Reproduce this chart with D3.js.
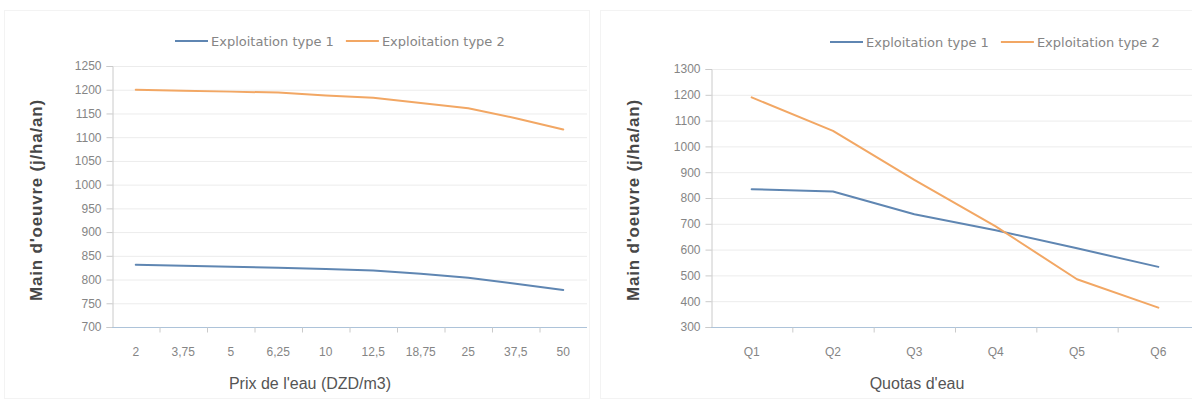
<!DOCTYPE html>
<html>
<head>
<meta charset="utf-8">
<script src="https://cdn.jsdelivr.net/npm/d3@7"></script>
<style>
  html, body { margin: 0; padding: 0; background: #fff; overflow: hidden; }
  svg { display: block; }
  text { font-family: "Liberation Sans", "DejaVu Sans", sans-serif; }
</style>
</head>
<body>
<svg id="chart" width="1192" height="403"></svg>
<script>
// Left panel: labour vs. water price
const priceCategories = ["2", "3,75", "5", "6,25", "10", "12,5", "18,75", "25", "37,5", "50"];
const priceType1 = [831, 829, 827, 825, 822, 819, 812, 804, 791, 778];
const priceType2 = [1200, 1198, 1196, 1194, 1188, 1183, 1172, 1161, 1140, 1116];
const priceTicks = [700, 750, 800, 850, 900, 950, 1000, 1050, 1100, 1150, 1200, 1250];

// Right panel: labour vs. water quotas
const quotaCategories = ["Q1", "Q2", "Q3", "Q4", "Q5", "Q6"];
const quotaType1 = [834, 825, 737, 675, 605, 533];
const quotaType2 = [1190, 1060, 870, 690, 485, 375];
const quotaTicks = [300, 400, 500, 600, 700, 800, 900, 1000, 1100, 1200, 1300];

const seriesNames = ["Exploitation type 1", "Exploitation type 2"];
const seriesColors = ["#5f86b2", "#f2a764"];
const yTitle = "Main d'oeuvre  (j/ha/an)";

const svg = d3.select("#chart");

// faint frames of the two chart areas
svg.append("rect").attr("x", 4.5).attr("y", 10.5).attr("width", 585).attr("height", 388)
  .attr("fill", "none").attr("stroke", "#f3f3f3");
svg.append("rect").attr("x", 600.5).attr("y", 10.5).attr("width", 600).attr("height", 388)
  .attr("fill", "none").attr("stroke", "#f3f3f3");

function drawPanel(cfg) {
  const g = svg.append("g");
  const x = d3.scaleBand().domain(cfg.categories).range([cfg.left, cfg.right]);
  const y = d3.scaleLinear().domain([cfg.ticks[0], cfg.ticks[cfg.ticks.length - 1]])
    .range([cfg.bottom, cfg.top]);

  // horizontal gridlines
  g.append("g").selectAll("line").data(cfg.ticks.slice(1)).join("line")
    .attr("x1", cfg.left).attr("x2", cfg.right)
    .attr("y1", d => y(d) + 0.5).attr("y2", d => y(d) + 0.5)
    .attr("stroke", "#ececec").attr("stroke-width", 1);

  // y axis
  const yAxis = d3.axisLeft(y).tickValues(cfg.ticks).tickSize(6).tickPadding(5)
    .tickFormat(d3.format("d"));
  const ya = g.append("g").attr("transform", `translate(${cfg.left + 0.5},0)`).call(yAxis);
  ya.select(".domain").attr("stroke", "#cacaca");
  ya.selectAll(".tick line").attr("stroke", "#cacaca");
  ya.selectAll(".tick text").attr("fill", "#858585").style("font-size", "12px")
    .style("font-family", "Liberation Sans, sans-serif");

  // x axis with ticks on category boundaries
  const xa = g.append("g").attr("transform", `translate(0,${cfg.bottom + 0.5})`);
  xa.append("line").attr("x1", cfg.left).attr("x2", cfg.right)
    .attr("stroke", "#adc3d9").attr("stroke-width", 1.2);
  xa.selectAll("line.tk").data(cfg.categories.slice(1)).join("line").attr("class", "tk")
    .attr("x1", d => x(d) + 0.5).attr("x2", d => x(d) + 0.5)
    .attr("y1", 0).attr("y2", 5).attr("stroke", "#cacaca");
  xa.selectAll("text").data(cfg.categories).join("text")
    .attr("x", d => x(d) + x.bandwidth() / 2).attr("y", 28)
    .attr("text-anchor", "middle").attr("fill", "#858585").style("font-size", "12px")
    .text(d => d);

  // series lines
  const line = d3.line()
    .x((d, i) => x(cfg.categories[i]) + x.bandwidth() / 2)
    .y(d => y(d));
  cfg.series.forEach((s, k) => {
    g.append("path").datum(s).attr("d", line)
      .attr("fill", "none").attr("stroke", seriesColors[k]).attr("stroke-width", 2)
      .attr("stroke-linejoin", "round").attr("stroke-linecap", "round");
  });

  // legend
  const lg = g.append("g").attr("transform", `translate(${cfg.legendX},${cfg.legendY})`);
  let off = 0;
  seriesNames.forEach((name, k) => {
    lg.append("line").attr("x1", off).attr("x2", off + 33).attr("y1", 0).attr("y2", 0)
      .attr("stroke", seriesColors[k]).attr("stroke-width", 2);
    const t = lg.append("text").attr("x", off + 36).attr("y", 5)
      .attr("fill", "#858585").style("font-size", "13px")
      .style("font-family", "DejaVu Sans, sans-serif").text(name);
    off += 36 + t.node().getComputedTextLength() + 12;
  });

  // axis titles
  g.append("text")
    .attr("transform", `translate(${cfg.yTitleX},${cfg.yTitleY}) rotate(-90)`)
    .attr("text-anchor", "middle").attr("fill", "#474747").style("font-size", "17px")
    .style("font-weight", "bold").style("letter-spacing", "0.8px").text(yTitle);
  g.append("text").attr("x", cfg.xTitleX).attr("y", cfg.bottom + 62)
    .attr("text-anchor", "middle").attr("fill", "#555").style("font-size", "16px")
    .text(cfg.xTitle);
}

drawPanel({
  categories: priceCategories, ticks: priceTicks, series: [priceType1, priceType2],
  left: 112, right: 587, top: 66, bottom: 327,
  legendX: 175, legendY: 41, yTitleX: 42, yTitleY: 200, xTitleX: 310,
  xTitle: "Prix de l'eau (DZD/m3)"
});

drawPanel({
  categories: quotaCategories, ticks: quotaTicks, series: [quotaType1, quotaType2],
  left: 711, right: 1199, top: 69, bottom: 327,
  legendX: 830, legendY: 42, yTitleX: 639, yTitleY: 200, xTitleX: 917,
  xTitle: "Quotas d'eau"
});
</script>
</body>
</html>
